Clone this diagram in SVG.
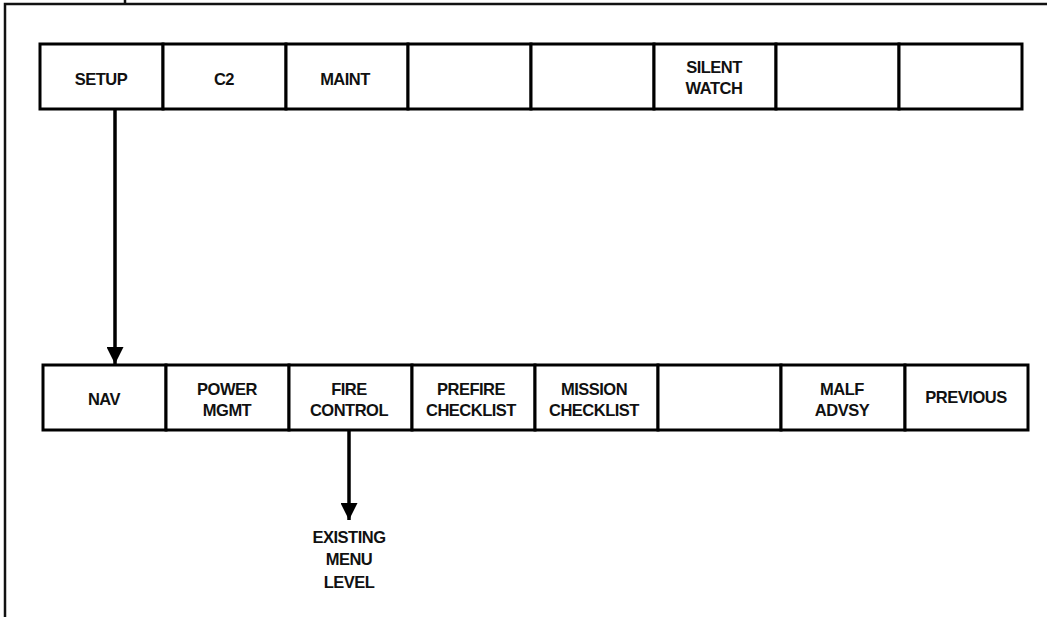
<svg xmlns="http://www.w3.org/2000/svg" width="1047" height="617" viewBox="0 0 1047 617">
<defs>
<style>
.frame{stroke:#111;stroke-width:2.5;fill:none}
.cell{fill:#fff;stroke:#000;stroke-width:3}
.lbl{font-family:"Liberation Sans",Arial,Helvetica,sans-serif;font-weight:bold;font-size:16.5px;fill:#111;text-anchor:middle;letter-spacing:-0.5px}
.conn{stroke:#000;stroke-width:3.5;fill:none}
</style>
<marker id="ah" markerUnits="userSpaceOnUse" markerWidth="18" markerHeight="17" refX="17" refY="8.5" orient="auto">
<path d="M0,0 L17,8.5 L0,17 Z" fill="#000"/>
</marker>
</defs>
<rect width="1047" height="617" fill="#fff"/>
<g id="frame">
<path class="frame" d="M5,617 V4 H1047"/>
<path class="frame" d="M125,0 V4"/>
</g>
<g id="top-row">
<g id="setup"><rect class="cell" x="40" y="44" width="123" height="65"/><text class="lbl" x="101" y="85">SETUP</text></g>
<g id="c2"><rect class="cell" x="163" y="44" width="123" height="65"/><text class="lbl" x="224" y="85">C2</text></g>
<g id="maint"><rect class="cell" x="286" y="44" width="122" height="65"/><text class="lbl" x="345" y="85">MAINT</text></g>
<g id="top4"><rect class="cell" x="408" y="44" width="123" height="65"/></g>
<g id="top5"><rect class="cell" x="531" y="44" width="123" height="65"/></g>
<g id="silent-watch"><rect class="cell" x="654" y="44" width="122" height="65"/><text class="lbl" x="714" y="73">SILENT</text><text class="lbl" x="714" y="94">WATCH</text></g>
<g id="top7"><rect class="cell" x="776" y="44" width="123" height="65"/></g>
<g id="top8"><rect class="cell" x="899" y="44" width="123" height="65"/></g>
</g>
<g id="bottom-row">
<g id="nav"><rect class="cell" x="43" y="365" width="123" height="65"/><text class="lbl" x="104" y="405">NAV</text></g>
<g id="power-mgmt"><rect class="cell" x="166" y="365" width="123" height="65"/><text class="lbl" x="227" y="395">POWER</text><text class="lbl" x="227" y="416">MGMT</text></g>
<g id="fire-control"><rect class="cell" x="289" y="365" width="123" height="65"/><text class="lbl" x="349" y="395">FIRE</text><text class="lbl" x="349" y="416">CONTROL</text></g>
<g id="prefire-checklist"><rect class="cell" x="412" y="365" width="123" height="65"/><text class="lbl" x="471" y="395">PREFIRE</text><text class="lbl" x="471" y="416">CHECKLIST</text></g>
<g id="mission-checklist"><rect class="cell" x="535" y="365" width="123" height="65"/><text class="lbl" x="594" y="395">MISSION</text><text class="lbl" x="594" y="416">CHECKLIST</text></g>
<g id="bottom6"><rect class="cell" x="658" y="365" width="123" height="65"/></g>
<g id="malf-advsy"><rect class="cell" x="781" y="365" width="124" height="65"/><text class="lbl" x="842" y="395">MALF</text><text class="lbl" x="842" y="416">ADVSY</text></g>
<g id="previous"><rect class="cell" x="905" y="365" width="123" height="65"/><text class="lbl" x="966" y="403">PREVIOUS</text></g>
</g>
<g id="existing-menu-level">
<text class="lbl" x="349" y="543">EXISTING</text>
<text class="lbl" x="349" y="565">MENU</text>
<text class="lbl" x="349" y="588">LEVEL</text>
</g>
<g id="connectors">
<line class="conn" x1="115" y1="110" x2="115" y2="364" marker-end="url(#ah)"/>
<line class="conn" x1="349" y1="431" x2="349" y2="520" marker-end="url(#ah)"/>
</g>
</svg>
